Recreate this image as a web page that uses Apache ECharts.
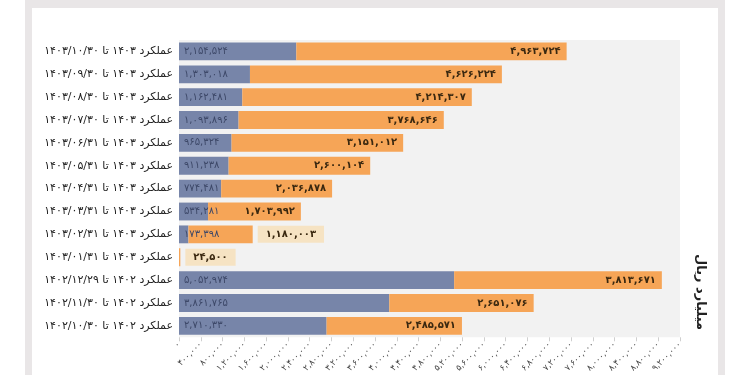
<!DOCTYPE html>
<html>
<head>
<meta charset="utf-8">
<script src="https://cdn.jsdelivr.net/npm/echarts@6/dist/echarts.min.js"></script>
<style>
html,body{margin:0;padding:0;background:#fff;}
#c{width:750px;height:375px;}
</style>
</head>
<body>
<div id="c"></div>
<script>
const categories = [
  "عملکرد ۱۴۰۳ تا ۱۴۰۳/۱۰/۳۰",
  "عملکرد ۱۴۰۳ تا ۱۴۰۳/۰۹/۳۰",
  "عملکرد ۱۴۰۳ تا ۱۴۰۳/۰۸/۳۰",
  "عملکرد ۱۴۰۳ تا ۱۴۰۳/۰۷/۳۰",
  "عملکرد ۱۴۰۳ تا ۱۴۰۳/۰۶/۳۱",
  "عملکرد ۱۴۰۳ تا ۱۴۰۳/۰۵/۳۱",
  "عملکرد ۱۴۰۳ تا ۱۴۰۳/۰۴/۳۱",
  "عملکرد ۱۴۰۳ تا ۱۴۰۳/۰۳/۳۱",
  "عملکرد ۱۴۰۳ تا ۱۴۰۳/۰۲/۳۱",
  "عملکرد ۱۴۰۳ تا ۱۴۰۳/۰۱/۳۱",
  "عملکرد ۱۴۰۲ تا ۱۴۰۲/۱۲/۲۹",
  "عملکرد ۱۴۰۲ تا ۱۴۰۲/۱۱/۳۰",
  "عملکرد ۱۴۰۲ تا ۱۴۰۲/۱۰/۳۰"
];
const blueValues = [2154524, 1303018, 1162481, 1093896, 965324, 911238, 774481, 534281, 173398, 0, 5052974, 3861765, 2710330];
const orangeValues = [4963724, 4626224, 4214307, 3768646, 3151012, 2600104, 2036878, 1703992, 1180003, 24500, 3813671, 2651076, 2485571];
const axisMin = 0, axisMax = 9200000, axisStep = 400000;
const axisTitle = "میلیارد ریال";

const faDigits = "۰۱۲۳۴۵۶۷۸۹";
function toFa(n){
  return Math.round(n).toString().replace(/\B(?=(\d{3})+(?!\d))/g, ",").replace(/\d/g, d => faDigits[+d]);
}

const BLUE = "#7785a9", ORANGE = "#f6a557", PALE = "#f6e3c3";
const FONT = "DejaVu Sans";

const orangeData = orangeValues.map(v => {
  const outside = v < 1500000;
  return {
    value: v,
    label: outside ? {
      position: "right", distance: 5, backgroundColor: PALE, padding: [4, 8, 3, 8]
    } : { position: "insideRight", distance: 6 }
  };
});

const chart = echarts.init(document.getElementById("c"), null, {renderer: "canvas"});
chart.setOption({
  animation: false,
  textStyle: {fontFamily: FONT},
  graphic: [
    {type: "rect", z: -10, silent: true, shape: {x: 25, y: 0, width: 700, height: 375}, style: {fill: "#e9e6e7"}},
    {type: "rect", z: -9, silent: true, shape: {x: 32, y: 8, width: 686, height: 367}, style: {fill: "#ffffff"}},
    {type: "text", x: 700, y: 292, rotation: -Math.PI / 2, style: {
      text: axisTitle, fontFamily: FONT, fontSize: 13, fontWeight: "bold", fill: "#222",
      align: "center", verticalAlign: "middle"
    }}
  ],
  grid: {left: 179, right: 70, top: 40, bottom: 33, show: true, backgroundColor: "#f2f2f2", borderWidth: 0},
  xAxis: {
    type: "value", min: axisMin, max: axisMax, interval: axisStep,
    axisLine: {show: false},
    axisTick: {show: true, length: 4, lineStyle: {color: "#cfcfcf"}},
    splitLine: {show: false},
    axisLabel: {
      rotate: 45, fontSize: 8.5, color: "#444", margin: 6, fontFamily: FONT,
      formatter: v => toFa(v)
    }
  },
  yAxis: {
    type: "category", data: categories, inverse: true,
    axisLine: {show: false}, axisTick: {show: false},
    axisLabel: {fontSize: 11, color: "#222", margin: 6, fontFamily: FONT}
  },
  series: [
    {
      type: "bar", stack: "t", data: blueValues, barWidth: "78%",
      itemStyle: {color: BLUE},
      label: {
        show: true, position: "insideLeft", distance: 5, fontSize: 10, color: "#3d4868", fontFamily: FONT,
        formatter: p => p.value ? toFa(p.value) : ""
      }
    },
    {
      type: "bar", stack: "t", data: orangeData, barWidth: "78%",
      itemStyle: {color: ORANGE},
      label: {
        show: true, fontSize: 10, fontWeight: "bold", color: "#3a2810", fontFamily: FONT,
        formatter: p => toFa(p.value)
      }
    }
  ]
});
</script>
</body>
</html>
